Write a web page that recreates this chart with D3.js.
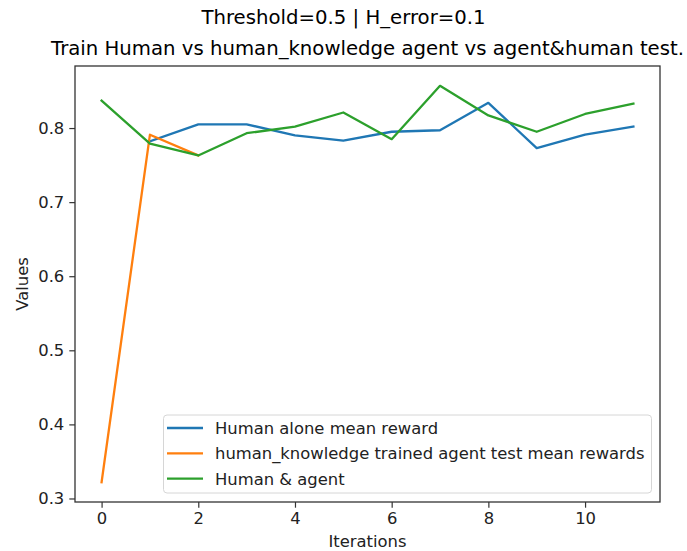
<!DOCTYPE html>
<html>
<head>
<meta charset="utf-8">
<script src="https://cdn.jsdelivr.net/npm/d3@7"></script>
<style>
  body { margin: 0; background: #fff; }
  svg { font-family: "DejaVu Sans", sans-serif; }
</style>
</head>
<body>
<div id="chart"></div>
<script>
// values
const humanX = [1, 2, 3, 4, 5, 6, 7, 8, 9, 10, 11];
const humanAlone = [0.782, 0.805, 0.805, 0.790, 0.783, 0.795, 0.797, 0.834, 0.773, 0.791, 0.802];

const agentX = [0, 1, 2];
const agentRewards = [0.322, 0.791, 0.763];

const bothX = [0, 1, 2, 3, 4, 5, 6, 7, 8, 9, 10, 11];
const humanAgent = [0.837, 0.779, 0.763, 0.793, 0.802, 0.821, 0.785, 0.857, 0.817, 0.795, 0.819, 0.833];

const xTicks = [0, 2, 4, 6, 8, 10];
const yTicks = [0.3, 0.4, 0.5, 0.6, 0.7, 0.8];

const series = [
  { name: "Human alone mean reward", xs: humanX, ys: humanAlone, color: "#1f77b4" },
  { name: "human_knowledge trained agent test mean rewards", xs: agentX, ys: agentRewards, color: "#ff7f0e" },
  { name: "Human & agent", xs: bothX, ys: humanAgent, color: "#2ca02c" }
];

const W = 687, H = 551;
const plot = { left: 75, right: 660, top: 66, bottom: 502 };
const fs = 16.4;          // 10pt
const titleFs = 19.7;     // 12pt

const svg = d3.select("#chart").append("svg")
  .attr("width", W)
  .attr("height", H);

// matplotlib style 5% margins
const allY = humanAlone.concat(agentRewards, humanAgent);
const yMin = d3.min(allY), yMax = d3.max(allY);
const yPad = (yMax - yMin) * 0.05;
const xScale = d3.scaleLinear().domain([-0.55, 11.55]).range([plot.left, plot.right]);
const yScale = d3.scaleLinear().domain([yMin - yPad, yMax + yPad]).range([plot.bottom, plot.top]);

// Titles
svg.append("text")
  .text("Threshold=0.5 | H_error=0.1")
  .attr("x", W / 2)
  .attr("y", 24)
  .attr("text-anchor", "middle")
  .attr("font-size", titleFs)
  .attr("fill", "#000");

svg.append("text")
  .text("Train Human vs human_knowledge agent vs agent&human test.")
  .attr("x", (plot.left + plot.right) / 2)
  .attr("y", 55)
  .attr("text-anchor", "middle")
  .attr("font-size", titleFs)
  .attr("fill", "#000");

// Axes
const xAxis = d3.axisBottom(xScale).tickValues(xTicks).tickSize(5.7).tickPadding(5).tickFormat(d3.format("d"));
const gx = svg.append("g")
  .attr("transform", "translate(0," + plot.bottom + ")")
  .call(xAxis);

const yAxis = d3.axisLeft(yScale).tickValues(yTicks).tickSize(5.7).tickPadding(5).tickFormat(d3.format(".1f"));
const gy = svg.append("g")
  .attr("transform", "translate(" + plot.left + ",0)")
  .call(yAxis);

[gx, gy].forEach(function(g) {
  g.select(".domain").remove();
  g.selectAll(".tick line").attr("stroke", "#333").attr("stroke-width", 1.2);
  g.selectAll(".tick text")
    .attr("fill", "#222")
    .attr("font-size", fs)
    .attr("font-family", "DejaVu Sans, sans-serif");
});

// Lines
const line = d3.line()
  .x(function(d) { return xScale(d[0]); })
  .y(function(d) { return yScale(d[1]); });

series.forEach(function(s) {
  svg.append("path")
    .datum(d3.zip(s.xs, s.ys))
    .attr("d", line)
    .attr("fill", "none")
    .attr("stroke", s.color)
    .attr("stroke-width", 2.3)
    .attr("stroke-linejoin", "round")
    .attr("stroke-linecap", "square");
});

// Frame
svg.append("rect")
  .attr("x", plot.left)
  .attr("y", plot.top)
  .attr("width", plot.right - plot.left)
  .attr("height", plot.bottom - plot.top)
  .attr("fill", "none")
  .attr("stroke", "#333")
  .attr("stroke-width", 1.3);

// Axis labels
svg.append("text")
  .text("Iterations")
  .attr("x", (plot.left + plot.right) / 2)
  .attr("y", 547)
  .attr("text-anchor", "middle")
  .attr("font-size", fs)
  .attr("fill", "#222");

svg.append("text")
  .text("Values")
  .attr("transform", "translate(28," + ((plot.top + plot.bottom) / 2) + ") rotate(-90)")
  .attr("text-anchor", "middle")
  .attr("font-size", fs)
  .attr("fill", "#222");

// Legend
const legend = svg.append("g");
legend.append("rect")
  .attr("x", 163.5)
  .attr("y", 415)
  .attr("width", 488)
  .attr("height", 78)
  .attr("rx", 3.5)
  .attr("ry", 3.5)
  .attr("fill", "#fff")
  .attr("fill-opacity", 0.8)
  .attr("stroke", "#d6d6d6");

const rows = legend.selectAll("g.row")
  .data(series)
  .enter()
  .append("g")
  .attr("transform", function(d, i) { return "translate(0," + (428 + i * 25.3) + ")"; });

rows.append("line")
  .attr("x1", 167)
  .attr("x2", 203)
  .attr("y1", 0)
  .attr("y2", 0)
  .attr("stroke", function(d) { return d.color; })
  .attr("stroke-width", 2.3);

rows.append("text")
  .text(function(d) { return d.name; })
  .attr("x", 215)
  .attr("y", 6)
  .attr("font-size", fs)
  .attr("fill", "#222");
</script>
</body>
</html>
